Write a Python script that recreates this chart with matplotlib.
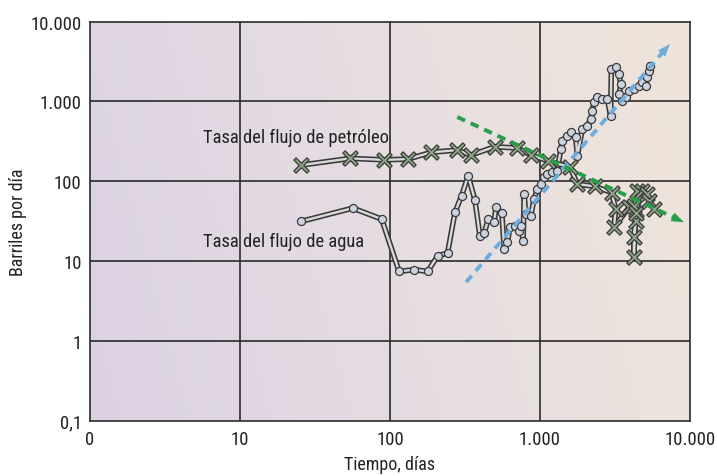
import numpy as np
import matplotlib
matplotlib.use("Agg")
import matplotlib.pyplot as plt
import matplotlib.patheffects as pe
from matplotlib.colors import LinearSegmentedColormap
from matplotlib.ticker import FixedLocator, FixedFormatter, NullLocator
from matplotlib.path import Path
from matplotlib import font_manager as fm

cands = ['Roboto Condensed', 'Liberation Sans Narrow', 'DejaVu Sans Condensed', 'Open Sans Condensed']
avail = {f.name for f in fm.fontManager.ttflist}
fams = [c for c in cands if c in avail] + ['Roboto', 'DejaVu Sans']
plt.rcParams['font.family'] = fams
plt.rcParams['font.stretch'] = 'condensed'

# ---- data ----
water_days = [25.6, 56.5, 88, 115, 145, 178, 208, 242, 271, 300, 332, 368, 398, 425, 452,
              495, 508, 557, 577, 607, 630, 683, 726, 745, 772, 784, 804, 868, 913, 961,
              1012, 1065, 1120, 1209, 1305, 1375, 1409, 1522, 1603, 1731, 1774, 1915, 2068,
              2178, 2233, 2291, 2409, 2602, 2808, 2958, 2990, 3194, 3360, 3449, 3380, 3535,
              3723, 3915, 4227, 4562, 4800, 5057, 5183, 5320, 5402]
water_rate = [31.4, 46, 33.5, 7.4, 7.8, 7.4, 11.6, 12.6, 40.6, 65.6, 117, 58.5, 20.3, 22.4, 33.5,
              30.5, 47, 39.8, 14.1, 17.1, 26.4, 27.6, 23.9, 27.6, 17.9, 68.9, 38.7, 36.8, 59.7, 79.6,
              92, 112, 123, 129, 135, 253, 321, 371, 409, 354, 208, 450, 495,
              600, 762, 971, 1122, 1069, 1069, 660, 2540, 2668, 2199, 1648, 1234, 1017,
              1122, 1357, 1426, 1568, 1730, 1568, 2000, 2418, 2793]

oil_days = [25.6, 54.3, 90.8, 131, 189, 280, 346, 500, 707, 872, 1132, 1586, 1774, 2326,
            3004, 3194, 3115, 3915, 4227, 4446, 4339, 4227, 4227, 4339, 4800, 5183, 5320, 5742]
oil_rate = [159, 193, 185, 189, 230, 245, 212, 270, 260, 212, 179, 150, 92, 86,
            72, 44.7, 26.4, 47, 49, 76, 31.9, 19.8, 11.1, 40, 76, 69, 57, 44.7]

oil_trend_days = [281, 9094]
oil_trend_rate = [636, 30.7]
water_trend_days = [322, 7337]
water_trend_rate = [5.44, 5224]

x_ticks = [1, 10, 100, 1000, 10000]
x_labels = ["0", "10", "100", "1.000", "10.000"]
y_ticks = [0.1, 1, 10, 100, 1000, 10000]
y_labels = ["0,1", "1", "10", "100", "1.000", "10.000"]

oil_label = "Tasa del flujo de petróleo"
water_label = "Tasa del flujo de agua"

# thin X marker
w = 0.17
plus = np.array([(w, w), (w, 1), (-w, 1), (-w, w), (-1, w), (-1, -w), (-w, -w), (-w, -1),
                 (w, -1), (w, -w), (1, -w), (1, w), (w, w)])
c, s = np.cos(np.pi / 4), np.sin(np.pi / 4)
xmark = Path(plus @ np.array([[c, s], [-s, c]]), closed=True)

# ---- figure ----
fig = plt.figure(figsize=(7.17, 4.77), dpi=100)
ax = fig.add_axes([90/717, 1-421.7/477, 600/717, (421.7-22.5)/477])
ax.set_xscale('log')
ax.set_yscale('log')
ax.set_xlim(1, 10000)
ax.set_ylim(0.1, 10000)

# background gradient
cmap = LinearSegmentedColormap.from_list('bg', ['#dbd1e3', '#e6dde2', '#efe5da'])
gx = np.linspace(0, 1, 256)
gy = np.linspace(0, 1, 64)
G = gx[None, :] * 0.85 + gy[:, None] * 0.15
ax.imshow(G, cmap=cmap, extent=[0, 1, 0, 1], transform=ax.transAxes,
          aspect='auto', origin='lower', zorder=0, interpolation='bicubic')

for t in x_ticks[1:-1]:
    ax.axvline(t, color='#2b2b2b', lw=1.2, zorder=1)
for t in y_ticks[1:-1]:
    ax.axhline(t, color='#2b2b2b', lw=1.2, zorder=1)
for sp in ax.spines.values():
    sp.set_color('#2b2b2b')
    sp.set_linewidth(1.2)

ax.xaxis.set_major_locator(FixedLocator(x_ticks))
ax.xaxis.set_major_formatter(FixedFormatter(x_labels))
ax.yaxis.set_major_locator(FixedLocator(y_ticks))
ax.yaxis.set_major_formatter(FixedFormatter(y_labels))
ax.xaxis.set_minor_locator(NullLocator())
ax.yaxis.set_minor_locator(NullLocator())
ax.tick_params(length=0, labelsize=13.5, colors='#222222', pad=6)
ax.tick_params(axis='x', pad=7)

ax.set_xlabel("Tiempo, días", fontsize=13, color='#222222')
ax.set_ylabel("Barriles por día", fontsize=13, color='#222222')
ax.xaxis.set_label_coords(0.5, -(456 - 421.7) / 399.2)
ax.yaxis.set_label_coords(-(90 - 27) / 600, 0.5)

line_fx = [pe.Stroke(linewidth=4.0, foreground='#3a3a3a'), pe.Normal()]

def trend(xs, ys, color, zorder):
    lx = np.log10(xs); ly = np.log10(ys)
    f = 0.965
    xm = 10 ** (lx[0] + f * (lx[1] - lx[0]))
    ym = 10 ** (ly[0] + f * (ly[1] - ly[0]))
    ax.plot([xs[0], xm], [ys[0], ym], color=color, lw=2.8, ls=(0, (2.2, 1.6)),
            zorder=zorder, solid_capstyle='butt')
    ax.annotate('', xy=(xs[1], ys[1]), xytext=(xm, ym),
                arrowprops=dict(arrowstyle='-|>,head_length=0.8,head_width=0.3',
                                color=color, lw=0.5, shrinkA=0, shrinkB=0),
                zorder=zorder)

# water series
ax.plot(water_days, water_rate, color='#d9d9d9', lw=1.7, zorder=3, path_effects=line_fx)
ax.plot(water_days, water_rate, ls='none', marker='o', ms=5.8, mfc='#ccd3df',
        mec='#3a3a3a', mew=0.9, zorder=4)
# oil series
ax.plot(oil_days, oil_rate, color='#d9d9d9', lw=1.7, zorder=5, path_effects=line_fx)
ax.plot(oil_days, oil_rate, ls='none', marker=xmark, ms=11, mfc='#8ea585',
        mec='#3a3a3a', mew=0.9, zorder=6)

trend(water_trend_days, water_trend_rate, '#6aaee0', 7)
trend(oil_trend_days, oil_trend_rate, '#25a049', 7)

ax.text(5.65, 357, oil_label, fontsize=13.3, color='#222222', va='center', ha='left', zorder=8)
ax.text(5.65, 17.9, water_label, fontsize=13.3, color='#222222', va='center', ha='left', zorder=8)

fig.savefig('out.png', dpi=100)
